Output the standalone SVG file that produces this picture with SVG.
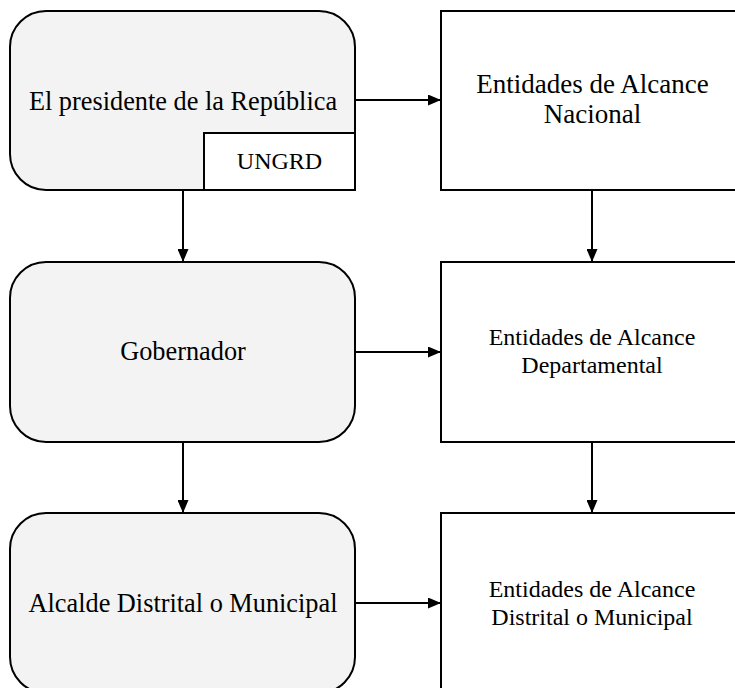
<svg xmlns="http://www.w3.org/2000/svg" width="735" height="688" viewBox="0 0 735 688">
  <style>
    .lead { fill: #f3f3f3; stroke: #000; stroke-width: 2; }
    .ent { fill: #fff; stroke: #000; stroke-width: 2; }
    text { font-family: "Liberation Serif", "Times New Roman", serif; fill: #000; text-anchor: middle; }
    .big { font-size: 26.3px; }
    .top { font-size: 27px; }
    .mid { font-size: 24px; }
    .sm { font-size: 24px; }
    .edge { stroke: #000; stroke-width: 2; fill: none; marker-end: url(#arrow); }
  </style>
  <defs>
    <marker id="arrow" markerWidth="13" markerHeight="11" refX="13" refY="5.5" orient="auto" markerUnits="userSpaceOnUse">
      <path d="M0,0 L13,5.5 L0,11 Z" fill="#000"/>
    </marker>
  </defs>
  <rect width="735" height="688" fill="#fff"/>

  <g id="presidente">
    <rect class="lead" x="10" y="11" width="345" height="179" rx="36" ry="36"/>
    <text class="big" x="183" y="110" font-family="Liberation Serif, serif">El presidente de la República</text>
  </g>
  <g id="ungrd">
    <rect class="ent" x="204" y="133" width="151" height="57"/>
    <text class="sm" x="279.5" y="169" font-family="Liberation Serif, serif">UNGRD</text>
  </g>
  <g id="gobernador">
    <rect class="lead" x="10" y="262" width="345" height="180" rx="36" ry="36"/>
    <text class="big" x="183" y="360" font-family="Liberation Serif, serif">Gobernador</text>
  </g>
  <g id="alcalde">
    <rect class="lead" x="10" y="513" width="345" height="180" rx="36" ry="36"/>
    <text class="big" x="183" y="612" font-family="Liberation Serif, serif">Alcalde Distrital o Municipal</text>
  </g>

  <g id="ent-nacional">
    <rect class="ent" x="441" y="11" width="303" height="179"/>
    <text class="top" x="592.5" y="93" font-family="Liberation Serif, serif">Entidades de Alcance</text>
    <text class="top" x="592.5" y="123" font-family="Liberation Serif, serif">Nacional</text>
  </g>
  <g id="ent-departamental">
    <rect class="ent" x="441" y="262" width="303" height="180"/>
    <text class="mid" x="592" y="345" font-family="Liberation Serif, serif">Entidades de Alcance</text>
    <text class="mid" x="592" y="373" font-family="Liberation Serif, serif">Departamental</text>
  </g>
  <g id="ent-municipal">
    <rect class="ent" x="441" y="513" width="303" height="180"/>
    <text class="mid" x="592" y="597" font-family="Liberation Serif, serif">Entidades de Alcance</text>
    <text class="mid" x="592" y="625" font-family="Liberation Serif, serif">Distrital o Municipal</text>
  </g>

  <g id="connectors">
    <line class="edge" x1="355" y1="100" x2="441" y2="100"/>
    <line class="edge" x1="355" y1="352" x2="441" y2="352"/>
    <line class="edge" x1="355" y1="603" x2="441" y2="603"/>
    <line class="edge" x1="183" y1="190" x2="183" y2="262"/>
    <line class="edge" x1="183" y1="442" x2="183" y2="513"/>
    <line class="edge" x1="592" y1="190" x2="592" y2="262"/>
    <line class="edge" x1="592" y1="442" x2="592" y2="513"/>
  </g>
</svg>
